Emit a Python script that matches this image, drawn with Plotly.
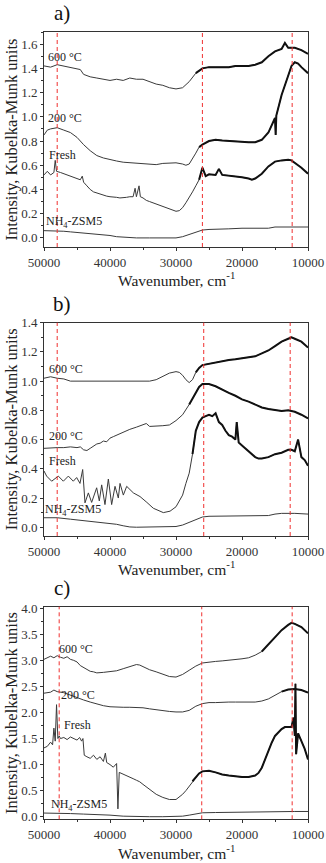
import plotly.graph_objects as go

# ---------------- DATA ----------------
# Panel a)
a_600_x = [50000, 49000, 48000, 47000, 46000, 45000, 44500, 44000, 43000, 42000, 41000, 40000, 39000, 38000, 37000, 36000,
           35000, 34000, 33000, 32000, 31000, 30000, 29000, 28000, 27000, 26000, 25000, 24000, 23000, 22000, 21000, 20000,
           19000, 18000, 17000, 16000, 15000, 14000, 13500, 13000, 12000, 11000, 10000]
a_600_y = [1.42, 1.41, 1.43, 1.42, 1.41, 1.40, 1.39, 1.35, 1.33, 1.32, 1.31, 1.30, 1.31, 1.30, 1.32, 1.31,
           1.31, 1.29, 1.27, 1.26, 1.24, 1.23, 1.24, 1.29, 1.36, 1.40, 1.41, 1.41, 1.41, 1.41, 1.42, 1.42,
           1.42, 1.43, 1.45, 1.50, 1.54, 1.56, 1.61, 1.57, 1.57, 1.55, 1.52]

a_200_x = [50000, 49500, 49000, 48000, 47000, 46000, 45000, 44500, 44000, 43000, 42000, 41000, 40000, 39000, 38000, 37000,
           36000, 35000, 34000, 33000, 32000, 31000, 30000, 29000, 28500, 28000, 27500, 27000, 26500, 26000, 25000, 24000,
           23000, 22000, 21000, 20000, 19000, 18000, 17000, 16000, 15500, 15000, 14900, 14800, 14000, 13000, 12500, 12000,
           11500, 11000, 10000]
a_200_y = [0.85, 0.89, 0.90, 0.91, 0.89, 0.87, 0.83, 0.80, 0.77, 0.72, 0.68, 0.66, 0.645, 0.635, 0.625, 0.62,
           0.615, 0.61, 0.605, 0.605, 0.615, 0.62, 0.62, 0.61, 0.60, 0.61, 0.65, 0.70, 0.75, 0.77, 0.80, 0.81,
           0.805, 0.80, 0.795, 0.79, 0.79, 0.79, 0.81, 0.87, 0.93, 0.99, 0.85, 1.01, 1.18, 1.33, 1.42, 1.45,
           1.44, 1.41, 1.36]

a_fresh_x = [50000, 49500, 49000, 48500, 48300, 48100, 47500, 47000, 46500, 46000, 45500, 45000, 44500, 44200, 44000, 43500,
             43000, 42500, 42000, 41500, 41000, 40500, 40000, 39500, 39000, 38500, 38000, 37500, 37000, 36500, 36200, 36000,
             35600, 35400, 35000, 34500, 34000, 33000, 32000, 31000, 30000, 29500, 29000, 28500, 28000, 27500, 27000, 26500,
             26000, 25500, 25000, 24000, 23500, 23000, 22000, 21000, 20000, 19000, 18500, 18000, 17000, 16000, 15000, 14000,
             13000, 12500, 12000, 11000, 10000]
a_fresh_y = [0.52, 0.55, 0.52, 0.54, 0.64, 0.55, 0.54, 0.53, 0.52, 0.51, 0.50, 0.49, 0.48, 0.51, 0.46, 0.43,
             0.40, 0.38, 0.37, 0.36, 0.35, 0.345, 0.34, 0.34, 0.335, 0.33, 0.33, 0.335, 0.34, 0.34, 0.41, 0.34,
             0.43, 0.34, 0.33, 0.31, 0.30, 0.28, 0.255, 0.235, 0.22, 0.225, 0.25, 0.29, 0.33, 0.38, 0.43, 0.48,
             0.58, 0.51, 0.525, 0.52, 0.57, 0.52, 0.515, 0.51, 0.50, 0.49, 0.48, 0.49, 0.53, 0.59, 0.63, 0.64,
             0.645, 0.64, 0.62, 0.58, 0.53]

a_nh4_x = [50000, 49000, 48000, 47000, 46000, 45000, 44000, 43000, 42000, 41000, 40000, 39000, 38000, 37000, 36000, 34000,
           32000, 30000, 29000, 28000, 27000, 26000, 25000, 24000, 22000, 20000, 18000, 16000, 15000, 14000, 12000, 10000]
a_nh4_y = [0.06, 0.06, 0.06, 0.055, 0.05, 0.045, 0.04, 0.035, 0.03, 0.03, 0.02, 0.01, 0.005, 0.0, 0.0, 0.0,
           0.0, 0.0, 0.01, 0.03, 0.05, 0.065, 0.07, 0.07, 0.075, 0.08, 0.08, 0.08, 0.09, 0.09, 0.09, 0.09]

# Panel b)
b_600_x = [50000, 49000, 48000, 47000, 46000, 45000, 44000, 42000, 40000, 38000, 36000, 34000, 33000, 32000, 31000, 30000,
           29500, 29000, 28500, 28000, 27500, 27000, 26500, 26000, 25000, 24000, 23000, 22000, 21000, 20000, 19000, 18000,
           17000, 16000, 15000, 14000, 13000, 12500, 12000, 11000, 10000]
b_600_y = [1.02, 1.03, 1.02, 1.015, 1.0, 1.0, 1.0, 1.0, 1.0, 1.0, 1.0, 1.0, 1.01, 1.03, 1.055, 1.065,
           1.06, 1.04, 1.01, 0.99, 1.01, 1.06, 1.09, 1.11, 1.12, 1.13, 1.14, 1.145, 1.15, 1.155, 1.16, 1.17,
           1.19, 1.21, 1.24, 1.27, 1.29, 1.30, 1.29, 1.27, 1.23]

b_200_x = [50000, 49000, 48000, 47000, 46000, 45000, 44500, 44000, 43500, 43000, 42500, 42000, 41500, 41000, 40500, 40000,
           39500, 39000, 38500, 38000, 37000, 36000, 35000, 34500, 34000, 33000, 32000, 31000, 30000, 29000, 28000, 27000,
           26500, 26000, 25000, 24000, 23000, 22000, 21000, 20000, 19000, 18000, 17000, 16000, 15000, 14000, 13000, 12000,
           11000, 10000]
b_200_y = [0.54, 0.545, 0.545, 0.545, 0.55, 0.545, 0.55, 0.53, 0.525, 0.54, 0.555, 0.57, 0.575, 0.59, 0.585, 0.61,
           0.62, 0.63, 0.645, 0.65, 0.67, 0.685, 0.70, 0.71, 0.69, 0.69, 0.695, 0.70, 0.73, 0.77, 0.84, 0.92,
           0.96, 0.98, 0.98, 0.965, 0.94, 0.92, 0.90, 0.875, 0.86, 0.84, 0.82, 0.81, 0.80, 0.795, 0.80, 0.79,
           0.77, 0.745]

b_fresh_x = [50000, 49600, 48840, 47830, 47070, 46310, 45560, 45050, 44550, 44140, 43790, 43280, 42780, 42020, 41620, 41260,
             40760, 40250, 39750, 39240, 38740, 38480, 37980, 37470, 36460, 35450, 34410, 33440, 31920, 30900, 30000, 29000,
             28500, 28000, 27500, 27000, 26500, 26000, 25500, 25000, 24500, 24000, 23500, 23000, 22500, 22000, 21500, 21000,
             20800, 20500, 20000, 19000, 18000, 17500, 17000, 16000, 15000, 14000, 13000, 12500, 12000, 11500, 11000, 10500,
             10000]
b_fresh_y = [0.385, 0.35, 0.315, 0.35, 0.315, 0.35, 0.315, 0.34, 0.30, 0.395, 0.167, 0.235, 0.17, 0.27, 0.18, 0.29,
             0.155, 0.33, 0.155, 0.28, 0.20, 0.30, 0.22, 0.28, 0.235, 0.21, 0.17, 0.13, 0.10, 0.11, 0.14, 0.22,
             0.30, 0.37, 0.50, 0.66, 0.72, 0.75, 0.76, 0.77, 0.76, 0.78, 0.72, 0.70, 0.66, 0.63, 0.62, 0.60,
             0.72, 0.58, 0.56, 0.52, 0.48, 0.47, 0.47, 0.48, 0.50, 0.51, 0.53, 0.53, 0.52, 0.60, 0.48, 0.46,
             0.42]

b_nh4_x = [50000, 48000, 46000, 44000, 42000, 40000, 39000, 38000, 37000, 36000, 34000, 32000, 30000, 29000, 28000, 27000,
           26000, 25000, 24000, 22000, 20000, 18000, 16000, 15000, 14000, 12000, 10000]
b_nh4_y = [0.065, 0.065, 0.055, 0.045, 0.035, 0.03, 0.02, 0.01, 0.002, 0.0, 0.0, 0.0, 0.005, 0.015, 0.035, 0.055,
           0.07, 0.075, 0.075, 0.075, 0.075, 0.08, 0.08, 0.09, 0.095, 0.095, 0.09]

# Panel c)
c_600_x = [50000, 49500, 49000, 48500, 48000, 47500, 47000, 46500, 46000, 45500, 45000, 44500, 44000, 43500, 43000, 42500,
           42000, 41000, 40000, 39000, 38000, 37000, 36000, 35500, 35000, 34000, 33000, 32000, 31000, 30000, 29000, 28000,
           27000, 26000, 25000, 24000, 23000, 22000, 21000, 20000, 19000, 18000, 17000, 16000, 15000, 14000, 13000, 12500,
           12000, 11000, 10000]
c_600_y = [3.02, 3.05, 3.08, 3.05, 3.09, 3.06, 3.04, 3.07, 3.02, 3.0, 2.97, 2.90, 2.86, 2.82, 2.79, 2.78,
           2.76, 2.77, 2.78, 2.80, 2.84, 2.88, 2.92, 2.91, 2.88, 2.82, 2.78, 2.73, 2.69, 2.68, 2.73, 2.81,
           2.89, 2.95, 2.97, 2.98, 2.99, 3.0, 3.01, 3.03, 3.05, 3.10, 3.17, 3.30, 3.45, 3.58, 3.68, 3.72,
           3.70, 3.64, 3.52]

c_200_x = [50000, 49000, 48500, 48000, 47000, 46000, 45000, 44000, 43000, 42000, 41000, 40000, 39000, 38000, 37000, 36000,
           35000, 34000, 33000, 32000, 31000, 30000, 29000, 28000, 27000, 26000, 25000, 24000, 23000, 22000, 21000, 20000,
           19000, 18000, 17000, 16000, 15000, 14000, 13000, 12000, 11000, 10000]
c_200_y = [2.37, 2.39, 2.43, 2.40, 2.38, 2.33, 2.29, 2.24, 2.20, 2.16, 2.13, 2.11, 2.10, 2.10, 2.10, 2.10,
           2.09, 2.07, 2.05, 2.03, 2.02, 2.01, 2.01, 2.04, 2.12, 2.17, 2.19, 2.19, 2.20, 2.20, 2.20, 2.20,
           2.20, 2.20, 2.22, 2.26, 2.33, 2.40, 2.44, 2.45, 2.43, 2.38]

c_fresh_x = [50000, 49500, 49000, 48700, 48500, 48300, 48100, 47900, 47700, 47500, 47000, 46500, 46000, 45500, 45000, 44600,
             44300, 44100, 43900, 43500, 43000, 42500, 42000, 41500, 41000, 40700, 40500, 40000, 39500, 39000, 38800, 38600,
             38000, 37500, 37000, 36500, 36000, 35500, 35000, 34500, 34000, 33500, 33000, 32000, 31000, 30000, 29500, 29000,
             28500, 28000, 27500, 27000, 26500, 26000, 25000, 24000, 23000, 22000, 21000, 20000, 19000, 18000, 17500, 17000,
             16500, 16000, 15500, 15000, 14500, 14000, 13500, 13000, 12500, 12200, 12000, 11900, 11800, 11500, 11000, 10500,
             10000]
c_fresh_y = [1.32, 1.35, 1.43, 1.38, 1.70, 1.45, 2.15, 1.50, 1.55, 1.50, 1.52, 1.48, 1.53, 1.50, 1.47, 1.52,
             1.45, 1.50, 1.18, 1.15, 1.12, 1.18, 1.10, 1.15, 1.06, 1.22, 1.04, 1.00, 0.95, 1.02, 0.15, 0.85,
             0.82, 0.79, 0.76, 0.73, 0.70, 0.67, 0.62, 0.57, 0.52, 0.47, 0.43, 0.37, 0.33, 0.33, 0.38, 0.43,
             0.50, 0.58, 0.68, 0.76, 0.83, 0.87, 0.88, 0.85, 0.81, 0.79, 0.77, 0.76, 0.76, 0.79, 0.84, 0.94,
             1.10, 1.28, 1.42, 1.55, 1.62, 1.68, 1.72, 1.72, 1.72, 1.90, 1.55, 2.55, 1.20, 1.60, 1.45, 1.30,
             1.10]

c_nh4_x = [50000, 48000, 46000, 44000, 42000, 40000, 38000, 36000, 34000, 32000, 30000, 29000, 28000, 27000, 26000, 24000,
           22000, 20000, 18000, 16000, 14000, 12000, 10000]
c_nh4_y = [0.07, 0.07, 0.06, 0.05, 0.045, 0.03, 0.01, 0.0, 0.0, 0.0, 0.0, 0.01, 0.03, 0.055, 0.075, 0.08,
           0.085, 0.09, 0.09, 0.095, 0.10, 0.10, 0.10]

# Dashed reference wavenumbers per panel
a_marks = [48000, 26000, 12400]
b_marks = [48000, 25800, 12700]
c_marks = [47700, 26100, 12400]

# Tick values
x_ticks = [50000, 40000, 30000, 20000, 10000]
a_yticks = [0.0, 0.2, 0.4, 0.6, 0.8, 1.0, 1.2, 1.4, 1.6]
b_yticks = [0.0, 0.2, 0.4, 0.6, 0.8, 1.0, 1.2, 1.4]
c_yticks = [0.0, 0.5, 1.0, 1.5, 2.0, 2.5, 3.0, 3.5, 4.0]

series_names = ["600 °C", "200 °C", "Fresh", "NH<sub>4</sub>-ZSM5"]

# ---------------- LAYOUT / STYLE ----------------
W, H = 326, 863
FONT = "Liberation Serif, Times New Roman, serif"
X0, X1 = 44, 308
panels = [
    dict(tag="a)", top=32, bot=247, title_off=31.5, yr=[-0.075, 1.70], yt=a_yticks, ymin=0.1, marks=a_marks,
         series=[(a_600_x, a_600_y, 27500), (a_200_x, a_200_y, 26500), (a_fresh_x, a_fresh_y, 26500), (a_nh4_x, a_nh4_y, None)],
         labels=[(46800, 1.495), (46800, 0.99), (47270, 0.685), (45450, 0.135)]),
    dict(tag="b)", top=322.7, bot=536, title_off=31.5, yr=[-0.06, 1.40], yt=b_yticks, ymin=0.1, marks=b_marks,
         series=[(b_600_x, b_600_y, 27000), (b_200_x, b_200_y, 28000), (b_fresh_x, b_fresh_y, 27500), (b_nh4_x, b_nh4_y, None)],
         labels=[(46670, 1.085), (46670, 0.627), (47270, 0.45), (45600, 0.12)]),
    dict(tag="c)", top=606.7, bot=819.3, title_off=33, yr=[-0.05, 4.03], yt=c_yticks, ymin=0.25, marks=c_marks,
         series=[(c_600_x, c_600_y, 17500), (c_200_x, c_200_y, 14000), (c_fresh_x, c_fresh_y, 27500), (c_nh4_x, c_nh4_y, None)],
         labels=[(45150, 3.22), (44920, 2.34), (45000, 1.76), (44700, 0.22)]),
]

fig = go.Figure()
layout = dict(width=W, height=H, margin=dict(l=0, r=0, t=0, b=0), paper_bgcolor="white",
              plot_bgcolor="white", showlegend=False, font=dict(family=FONT, color="#222", size=13))
shapes, annotations = [], []

for i, p in enumerate(panels):
    k = "" if i == 0 else str(i + 1)
    xa, ya = "x" + k, "y" + k
    for (xs, ys, noisy) in p["series"]:
        fig.add_trace(go.Scatter(x=xs, y=ys, mode="lines", xaxis=xa, yaxis=ya,
                                 line=dict(color="#3a3a3a", width=1), hoverinfo="skip"))
        if noisy is not None:
            nx = [x for x in xs if x <= noisy]
            ny = [y for x, y in zip(xs, ys) if x <= noisy]
            fig.add_trace(go.Scatter(x=nx, y=ny, mode="lines", xaxis=xa, yaxis=ya,
                                     line=dict(color="#111", width=2), hoverinfo="skip"))
    ydom = [1 - p["bot"] / H, 1 - p["top"] / H]
    layout["xaxis" + k] = dict(domain=[X0 / W, X1 / W], anchor=ya, range=[50000, 10000],
                               tickvals=x_ticks, ticktext=[str(v) for v in x_ticks],
                               ticks="outside", ticklen=3, tickwidth=1, tickcolor="#333",
                               minor=dict(dtick=5000, ticks="outside", ticklen=2, tickcolor="#333"),
                               showline=True, linecolor="#333", linewidth=1, mirror=True,
                               showgrid=False, zeroline=False, automargin=False,
                               tickfont=dict(family=FONT, size=13, color="#333"))
    layout["yaxis" + k] = dict(domain=ydom, anchor=xa, range=p["yr"],
                               tickvals=p["yt"], ticktext=["%.1f" % v for v in p["yt"]],
                               ticks="outside", ticklen=3, tickwidth=1, tickcolor="#333",
                               minor=dict(dtick=p["ymin"], ticks="outside", ticklen=2, tickcolor="#333"),
                               showline=True, linecolor="#333", linewidth=1, mirror=True,
                               showgrid=False, zeroline=False, automargin=False,
                               tickfont=dict(family=FONT, size=13, color="#333"))
    for m in p["marks"]:
        shapes.append(dict(type="line", xref=xa, yref=ya + " domain", x0=m, x1=m, y0=0, y1=1,
                           line=dict(color="#f0302f", width=1, dash="4px,3px")))
    for name, (lx, ly) in zip(series_names, p["labels"]):
        annotations.append(dict(x=lx, y=ly, xref=xa, yref=ya, text=name, showarrow=False,
                                xanchor="center", yanchor="middle",
                                font=dict(family=FONT, size=12, color="#222")))
    # panel tag
    annotations.append(dict(x=62 / W, y=1 - (p["top"] - 19) / H, xref="paper", yref="paper",
                            text=p["tag"], showarrow=False, xanchor="center", yanchor="middle",
                            font=dict(family=FONT, size=21, color="#111")))
    # axis titles
    annotations.append(dict(x=(X0 + X1) / 2 / W, y=1 - (p["bot"] + p["title_off"]) / H, xref="paper", yref="paper",
                            text="Wavenumber, cm<sup>-1</sup>", showarrow=False,
                            xanchor="center", yanchor="middle",
                            font=dict(family=FONT, size=15.5, color="#222")))
    annotations.append(dict(x=11 / W, y=1 - (p["top"] + p["bot"]) / 2 / H, xref="paper", yref="paper",
                            text="Intensity, Kubelka-Munk units", textangle=-90, showarrow=False,
                            xanchor="center", yanchor="middle",
                            font=dict(family=FONT, size=16.5, color="#222")))

layout["shapes"] = shapes
layout["annotations"] = annotations
fig.update_layout(**layout)
fig.write_html("out.html", config={"displayModeBar": False, "staticPlot": True},
               post_script="document.body.style.margin='0px';document.body.style.padding='0px';"
                           "document.documentElement.style.overflow='hidden';")
